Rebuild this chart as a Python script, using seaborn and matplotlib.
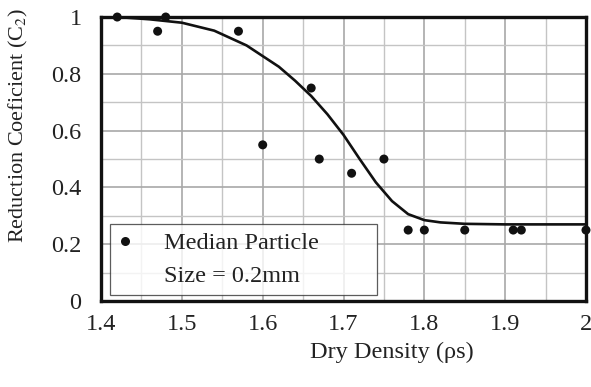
import matplotlib
matplotlib.use("Agg")
import matplotlib.pyplot as plt
from matplotlib.ticker import MultipleLocator, FuncFormatter
from matplotlib.lines import Line2D
import seaborn as sns
import pandas as pd

# Measured reduction coefficients
dry_density = [1.42, 1.47, 1.48, 1.57, 1.60, 1.66, 1.67, 1.71, 1.75,
               1.78, 1.80, 1.85, 1.91, 1.92, 2.00]
reduction_coef = [1.00, 0.95, 1.00, 0.95, 0.55, 0.75, 0.50, 0.45, 0.50,
                  0.25, 0.25, 0.25, 0.25, 0.25, 0.25]

# Fitted trend curve
fit_density = [1.42, 1.46, 1.50, 1.54, 1.58, 1.62, 1.64, 1.66, 1.68, 1.70,
               1.72, 1.74, 1.76, 1.78, 1.80, 1.82, 1.85, 1.90, 1.95, 2.00]
fit_coef = [1.000, 0.992, 0.980, 0.952, 0.900, 0.825, 0.776, 0.722, 0.658, 0.585,
            0.500, 0.418, 0.352, 0.306, 0.285, 0.277, 0.272, 0.270, 0.270, 0.270]

x_ticks = [1.4, 1.5, 1.6, 1.7, 1.8, 1.9, 2.0]
y_ticks = [0, 0.2, 0.4, 0.6, 0.8, 1.0]
legend_lines = ["Median Particle", "Size = 0.2mm"]

points = pd.DataFrame({"rho": dry_density, "c2": reduction_coef})
curve = pd.DataFrame({"rho": fit_density, "c2": fit_coef})

sns.set_theme(style="white")
plt.rcParams["font.family"] = ["Liberation Serif", "DejaVu Serif"]
plt.rcParams["mathtext.fontset"] = "stix"

FS = 17.5
TXT = "#222222"

fig = plt.figure(figsize=(5.91, 3.87), dpi=100)
ax = fig.add_axes([0.171, 0.222, 0.8205, 0.734])

sns.lineplot(data=curve, x="rho", y="c2", ax=ax, color="#111111",
             linewidth=1.9, zorder=3, legend=False)
sns.scatterplot(data=points, x="rho", y="c2", ax=ax, color="#111111", s=42,
                edgecolor="none", zorder=4, clip_on=False)

ax.set_xlim(1.4, 2.0)
ax.set_ylim(0, 1.0)
ax.set_xticks(x_ticks)
ax.set_yticks(y_ticks)
ax.xaxis.set_minor_locator(MultipleLocator(0.05))
ax.yaxis.set_minor_locator(MultipleLocator(0.1))
ax.xaxis.set_major_formatter(FuncFormatter(lambda v, p: f"{v:g}"))
ax.yaxis.set_major_formatter(FuncFormatter(lambda v, p: f"{v:g}"))

ax.grid(which="major", color="#a8a8a8", linewidth=1.2, zorder=0)
ax.grid(which="minor", color="#c4c4c4", linewidth=1.0, zorder=0)
ax.set_axisbelow(True)
ax.tick_params(axis="both", which="both", length=0, labelsize=FS, colors=TXT)
ax.tick_params(axis="x", pad=9)
ax.tick_params(axis="y", pad=14)

for side in ["left", "bottom", "top", "right"]:
    ax.spines[side].set_visible(True)
    ax.spines[side].set_color("#111111")
    ax.spines[side].set_linewidth(2.4)

ax.set_xlabel("Dry Density (ρs)", fontsize=FS, color=TXT, labelpad=7)
ax.xaxis.set_label_coords(0.60, -0.18)
ax.xaxis.label.set_verticalalignment("center")
ax.set_ylabel("Reduction Coeficient (C$_2$)", fontsize=16, color=TXT)
ax.yaxis.set_label_coords(-0.17, 0.62)
ax.yaxis.label.set_verticalalignment("center")

# Legend: dot beside the first line, second line continues the label
dot = Line2D([], [], linestyle="none", marker="o", markersize=6.5,
             color="#111111", markeredgewidth=0)
blank = Line2D([], [], linestyle="none", marker=None)
leg = ax.legend(handles=[dot, blank], labels=legend_lines,
                loc="lower left", bbox_to_anchor=(0.019, 0.021, 0.55, 0.26),
                mode="expand", fontsize=FS, frameon=True, fancybox=False,
                handletextpad=1.3, borderpad=0.35, labelspacing=0.42,
                handlelength=0.55, borderaxespad=0.0)
leg.get_frame().set_edgecolor("#333333")
leg.get_frame().set_linewidth(0.9)
for t in leg.get_texts():
    t.set_color(TXT)

fig.savefig("out.png", dpi=100)
